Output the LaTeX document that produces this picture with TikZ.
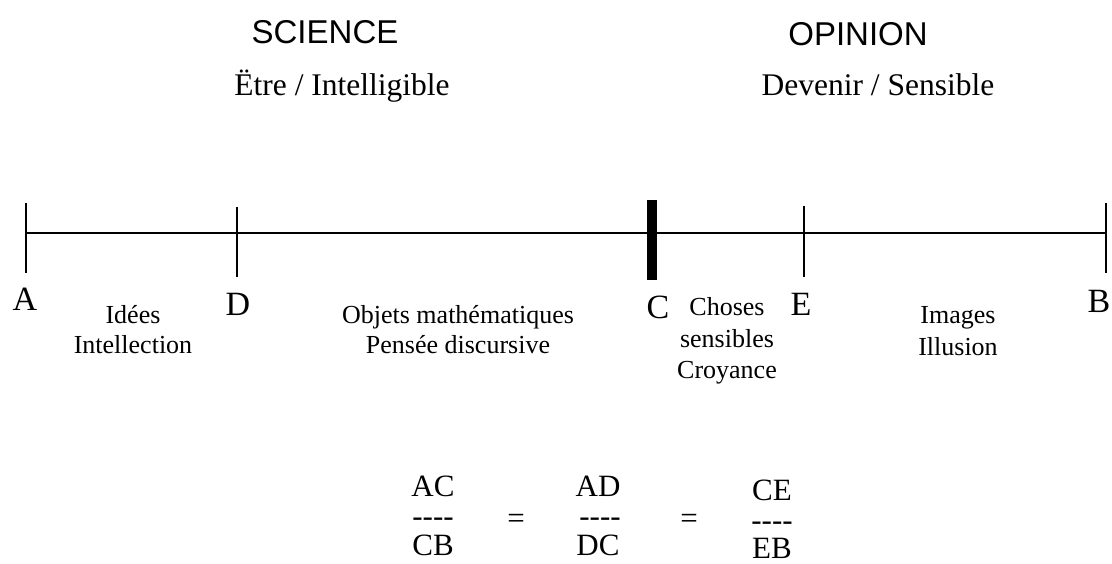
\documentclass[tikz,border=0pt]{standalone}
\usepackage{fontspec}
\setmainfont{Liberation Serif}
\newfontfamily\sansf{Liberation Sans}
\newcommand{\fourdash}{-{}-{}-{}-}
\begin{document}
\begin{tikzpicture}[x=1pt,y=-1pt,
  lbl/.style={anchor=base,inner sep=0pt,font=\fontsize{26}{30}\selectfont},
  letter/.style={anchor=base,inner sep=0pt,font=\fontsize{34}{38}\selectfont},
  head/.style={anchor=base,inner sep=0pt,font=\sansf\fontsize{33}{38}\selectfont},
  sub/.style={anchor=base,inner sep=0pt,font=\fontsize{31.5}{36}\selectfont},
  frac/.style={anchor=base,inner sep=0pt,font=\fontsize{31}{36}\selectfont},
  axis/.style={line width=2.6pt},
  tick/.style={line width=2.6pt},
  bigtick/.style={line width=10pt}]
\useasboundingbox (0,0) rectangle (1112,563);
% headings
\node[head] (science) at (325,43) {SCIENCE};
\node[head] (opinion) at (858,45) {OPINION};
\node[sub] (etre) at (342,95) {Ëtre / Intelligible};
\node[sub] (devenir) at (878,95) {Devenir / Sensible};
% axis points
\coordinate (pA) at (26,233);
\coordinate (pD) at (237,233);
\coordinate (pC) at (652,233);
\coordinate (pE) at (804,233);
\coordinate (pB) at (1106,233);
\draw[axis] (pA) -- (pB);
\draw[tick] ([yshift=30pt]pA) -- ([yshift=-40pt]pA);
\draw[tick] ([yshift=26pt]pD) -- ([yshift=-44pt]pD);
\draw[bigtick] ([yshift=33pt]pC) -- ([yshift=-47pt]pC);
\draw[tick] ([yshift=27pt]pE) -- ([yshift=-44pt]pE);
\draw[tick] ([yshift=30pt]pB) -- ([yshift=-40pt]pB);
% letters
\node[letter] (lA) at (25,310) {A};
\node[letter] (lD) at (238,315) {D};
\node[letter] (lC) at (658,318) {C};
\node[letter] (lE) at (801,315) {E};
\node[letter] (lB) at (1099,312) {B};
% segment labels
\node[lbl] (idees) at (133,323) {Idées};
\node[lbl] (intel) at (133,353) {Intellection};
\node[lbl] (objets) at (458,323) {Objets mathématiques};
\node[lbl] (pensee) at (458,353) {Pensée discursive};
\node[lbl] (choses) at (727,315) {Choses};
\node[lbl] (sensibles) at (727,347) {sensibles};
\node[lbl] (croyance) at (727,378) {Croyance};
\node[lbl] (images) at (958,323) {Images};
\node[lbl] (illusion) at (958,355) {Illusion};
% fractions
\node[frac] (ac) at (433,496) {AC};
\node[frac] (d1) at (433,526) {\fourdash};
\node[frac] (cb) at (433,555) {CB};
\node[frac] (eq1) at (516,528) {=};
\node[frac] (ad) at (598,496) {AD};
\node[frac] (d2) at (600,526) {\fourdash};
\node[frac] (dc) at (598,555) {DC};
\node[frac] (eq2) at (689,528) {=};
\node[frac] (ce) at (772,500) {CE};
\node[frac] (d3) at (772,530) {\fourdash};
\node[frac] (eb) at (772,558) {EB};
\end{tikzpicture}
\end{document}
